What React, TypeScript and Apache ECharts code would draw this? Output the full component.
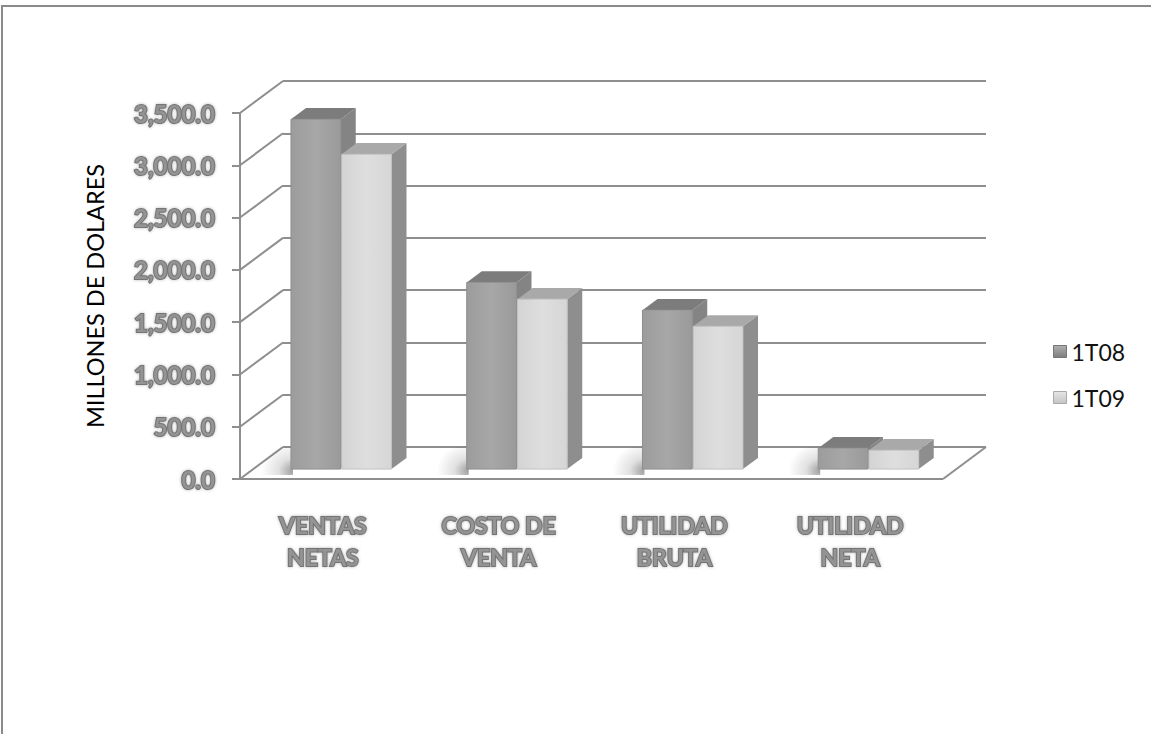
import React, { useEffect, useRef } from "react";
import * as echarts from "echarts";

// Categories and quarterly values (millions of dollars)
const categories = ["VENTAS\nNETAS", "COSTO DE\nVENTA", "UTILIDAD\nBRUTA", "UTILIDAD\nNETA"];
const seriesNames = ["1T08", "1T09"];
const values1T08 = [3345, 1785, 1520, 200];
const values1T09 = [3010, 1625, 1365, 180];
const yTicks = [0, 500, 1000, 1500, 2000, 2500, 3000, 3500];
const yMin = 0;
const yMax = 3500;
const yStep = 500;

// Oblique projection of the depth axis (front plane -> back wall)
const DEPTH_DX = 43;
const DEPTH_DY = -32;
const BAR_FRONT = 0.31; // where the bars start along the depth axis
const BAR_DEPTH = 0.35; // how deep each bar is

const GRID = { left: 240, top: 113, width: 703, height: 366 };
const LINE = "#8e8e8e";
const LABEL_FONT = "Lato";

const grayLabel = {
  fontFamily: LABEL_FONT,
  fontWeight: "bold" as const,
  fontSize: 24,
  color: "#949494",
  textBorderColor: "#747474",
  textBorderWidth: 2,
  textShadowColor: "rgba(90,90,90,0.45)",
  textShadowBlur: 3,
};

const fmt = (v: number) =>
  v.toLocaleString("en-US", { minimumFractionDigits: 1, maximumFractionDigits: 1 });

type BarColors = { front: any; side: string; top: string; edge: string };

const hGrad = (a: string, b: string, c: string) =>
  new echarts.graphic.LinearGradient(0, 0, 1, 0, [
    { offset: 0, color: a },
    { offset: 0.5, color: b },
    { offset: 1, color: c },
  ]);

const colors08: BarColors = {
  front: hGrad("#9c9c9c", "#a7a7a7", "#9a9a9a"),
  side: "#848484",
  top: "#7c7c7c",
  edge: "#8f8f8f",
};
const colors09: BarColors = {
  front: hGrad("#d4d4d4", "#dedede", "#d6d6d6"),
  side: "#8e8e8e",
  top: "#a9a9a9",
  edge: "#c2c2c2",
};

// soft floor shadow: darkest at the bar's bottom corner, fading outwards
const floorShadow = new echarts.graphic.RadialGradient(1, 0.85, 1, [
  { offset: 0, color: "rgba(0,0,0,0.38)" },
  { offset: 0.45, color: "rgba(0,0,0,0.12)" },
  { offset: 1, color: "rgba(0,0,0,0)" },
]);

function barSeries(name: string, values: number[], slot: number, c: BarColors) {
  return {
    type: "custom",
    name,
    xAxisIndex: 0,
    yAxisIndex: 0,
    itemStyle: { color: slot === 0 ? "#9a9a9a" : "#d8d8d8" },
    data: values.map((v, i) => [i, v]),
    encode: { x: 0, y: 1 },
    renderItem: (_params: any, api: any) => {
      const i = api.value(0);
      const v = api.value(1);
      const base = api.coord([i, 0]);
      const top = api.coord([i, v]);
      const catW = api.size([1, 0])[0];
      const bw = catW * 0.283;
      const fx = BAR_FRONT * DEPTH_DX;
      const fy = BAR_FRONT * DEPTH_DY;
      const dx = BAR_DEPTH * DEPTH_DX;
      const dy = BAR_DEPTH * DEPTH_DY;
      const xL = base[0] + fx + (slot === 0 ? -bw - 0.5 : 0.5);
      const xR = xL + bw;
      const yB = base[1] + fy;
      const yT = top[1] + fy;
      const children: any[] = [];
      if (slot === 0) {
        children.push({
          type: "rect",
          z2: -10,
          shape: { x: xL - 30, y: yB - 22, width: 32, height: 28 },
          style: { fill: floorShadow },
        });
      }
      children.push(
        {
          type: "polygon",
          shape: { points: [[xR, yT], [xR + dx, yT + dy], [xR + dx, yB + dy], [xR, yB]] },
          style: { fill: c.side },
        },
        {
          type: "polygon",
          shape: { points: [[xL, yT], [xL + dx, yT + dy], [xR + dx, yT + dy], [xR, yT]] },
          style: { fill: c.top },
        },
        {
          type: "rect",
          shape: { x: xL, y: yT, width: bw, height: yB - yT },
          style: { fill: c.front, stroke: c.edge, lineWidth: 1 },
        }
      );
      return { type: "group", children };
    },
  };
}

// Side wall diagonals, floor front and right edges
const wallSeries = {
  type: "custom",
  name: "wall",
  xAxisIndex: 0,
  yAxisIndex: 0,
  silent: true,
  data: yTicks.map((v) => [0, v]),
  encode: { x: 0, y: 1 },
  renderItem: (_params: any, api: any) => {
    const v = api.value(1);
    const p = api.coord([0, v]);
    const catW = api.size([1, 0])[0];
    const x0 = p[0] - catW / 2;
    const y = p[1];
    const style = { stroke: LINE, lineWidth: 2, fill: "none" };
    const children: any[] = [
      { type: "line", z2: -20, shape: { x1: x0, y1: y, x2: x0 + DEPTH_DX, y2: y + DEPTH_DY }, style },
    ];
    if (v === 0) {
      const xr = x0 + catW * categories.length;
      children.push(
        { type: "line", z2: -20, shape: { x1: x0 - 8, y1: y, x2: xr, y2: y }, style },
        { type: "line", z2: -20, shape: { x1: xr, y1: y, x2: xr + DEPTH_DX, y2: y + DEPTH_DY }, style }
      );
    }
    return { type: "group", children };
  },
};

function buildOption() {
  return {
    animation: false,
    backgroundColor: "#ffffff",
    grid: [
      { ...GRID, containLabel: false },
      {
        left: GRID.left + DEPTH_DX,
        top: GRID.top + DEPTH_DY,
        width: GRID.width,
        height: GRID.height,
        containLabel: false,
      },
    ],
    legend: {
      orient: "vertical",
      left: 1048,
      top: 334,
      itemWidth: 13,
      itemHeight: 12,
      itemGap: 21,
      icon: "rect",
      textStyle: { fontFamily: LABEL_FONT, fontSize: 23, color: "#111", lineHeight: 25 },
      data: [
        {
          name: seriesNames[0],
          itemStyle: {
            color: new echarts.graphic.LinearGradient(0, 0, 0, 1, [
              { offset: 0, color: "#b0b0b0" },
              { offset: 1, color: "#7d7d7d" },
            ]),
            borderColor: "#777",
            borderWidth: 1,
          },
        },
        {
          name: seriesNames[1],
          itemStyle: {
            color: new echarts.graphic.LinearGradient(0, 0, 0, 1, [
              { offset: 0, color: "#e6e6e6" },
              { offset: 1, color: "#c4c4c4" },
            ]),
            borderColor: "#aaa",
            borderWidth: 1,
          },
        },
      ],
    },
    xAxis: [
      {
        type: "category",
        gridIndex: 0,
        data: categories,
        axisLine: { show: false },
        axisTick: { show: false },
        axisLabel: {
          ...grayLabel,
          fontSize: 23,
          lineHeight: 32,
          margin: 30,
          padding: [0, 10, 0, 0],
          interval: 0,
        },
      },
      { type: "category", gridIndex: 1, data: categories, show: false },
    ],
    yAxis: [
      {
        type: "value",
        gridIndex: 0,
        min: yMin,
        max: yMax,
        interval: yStep,
        name: "MILLONES DE DOLARES",
        nameLocation: "middle",
        nameGap: 133,
        nameRotate: 90,
        nameTextStyle: { fontFamily: LABEL_FONT, fontSize: 23.5, color: "#000" },
        axisLine: { show: true, lineStyle: { color: LINE, width: 2 } },
        axisTick: { show: true, length: 8, lineStyle: { color: LINE, width: 2 } },
        splitLine: { show: false },
        axisLabel: { ...grayLabel, margin: 25, formatter: (v: number) => fmt(v) },
      },
      {
        type: "value",
        gridIndex: 1,
        min: yMin,
        max: yMax,
        interval: yStep,
        axisLine: { show: false },
        axisTick: { show: false },
        axisLabel: { show: false },
        splitLine: { show: true, lineStyle: { color: LINE, width: 2 } },
      },
    ],
    graphic: [
      {
        type: "rect",
        silent: true,
        z: -1,
        shape: { x: 2, y: 6, width: 1200, height: 800 },
        style: { fill: "none", stroke: "#8a8a8a", lineWidth: 2 },
      },
    ],
    series: [
      wallSeries,
      barSeries(seriesNames[0], values1T08, 0, colors08),
      barSeries(seriesNames[1], values1T09, 1, colors09),
    ],
  };
}

export default function App() {
  const ref = useRef<HTMLDivElement>(null);
  useEffect(() => {
    if (!ref.current) return;
    const chart = echarts.init(ref.current, undefined, { renderer: "svg" });
    chart.setOption(buildOption() as any);
    return () => chart.dispose();
  }, []);
  return (
    <div
      ref={ref}
      style={{ position: "fixed", left: 0, top: 0, width: 1151, height: 734, background: "#fff" }}
    />
  );
}
